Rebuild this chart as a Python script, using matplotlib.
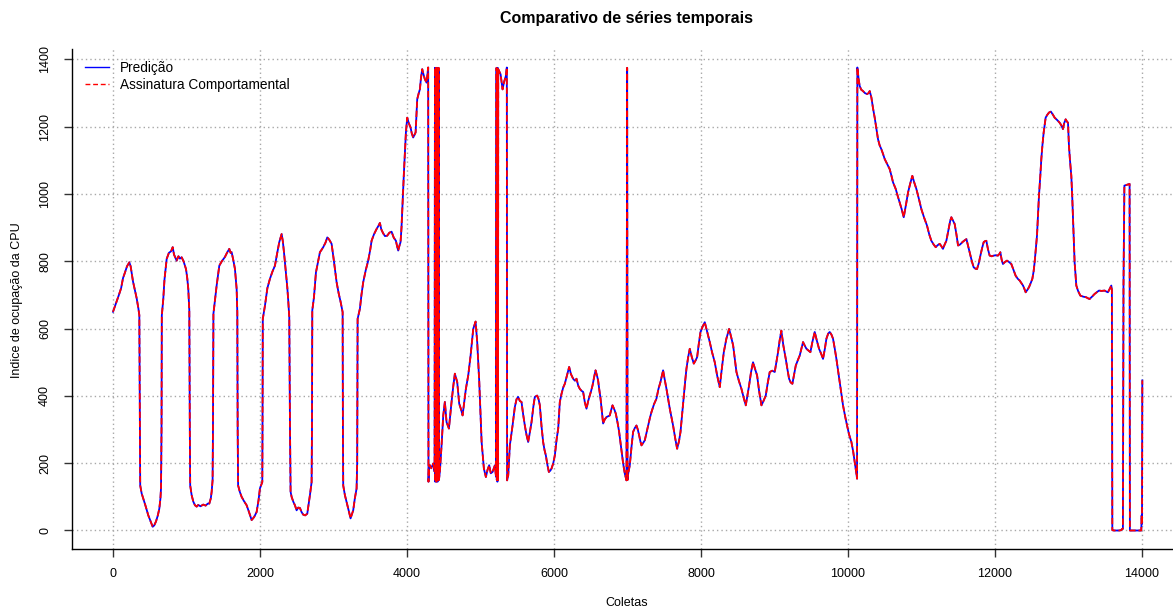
import matplotlib
matplotlib.use("Agg")
import matplotlib.pyplot as plt
from matplotlib.lines import Line2D

# ---------------- data ----------------
coletas = [
    0, 40, 80, 110, 136, 160, 190, 222, 240, 272, 300, 322, 345, 358, 366, 370, 390, 412, 440, 480, 510, 540, 560, 585,
    610, 630, 645, 653, 660, 664, 684, 700, 730, 760, 790, 812, 830, 850, 866, 890, 910, 934, 960, 993, 1010, 1024,
    1038, 1045, 1050, 1070, 1092, 1115, 1138, 1160, 1190, 1228, 1260, 1290, 1310, 1330, 1342, 1355, 1360, 1366, 1390,
    1410, 1430, 1446, 1480, 1523, 1550, 1582, 1600, 1614, 1640, 1659, 1672, 1682, 1691, 1696, 1702, 1725, 1750, 1780,
    1818, 1850, 1886, 1920, 1954, 1980, 1999, 2031, 2034, 2038, 2067, 2100, 2135, 2170, 2203, 2230, 2262, 2280, 2294,
    2310, 2326, 2350, 2371, 2385, 2398, 2408, 2416, 2430, 2452, 2475, 2498, 2520, 2543, 2565, 2588, 2615, 2643, 2660,
    2679, 2702, 2707, 2711, 2734, 2761, 2790, 2815, 2840, 2860, 2890, 2915, 2940, 2974, 3000, 3042, 3070, 3097, 3124,
    3128, 3132, 3155, 3178, 3200, 3232, 3250, 3268, 3290, 3314, 3322, 3328, 3359, 3380, 3404, 3440, 3472, 3500, 3518,
    3550, 3586, 3610, 3631, 3650, 3676, 3700, 3730, 3760, 3790, 3820, 3849, 3865, 3880, 3895, 3912, 3925, 3940, 3958,
    3975, 3985, 4003, 4025, 4048, 4065, 4084, 4100, 4117, 4139, 4160, 4175, 4190, 4207, 4225, 4243, 4266, 4280, 4288,
    4292, 4300, 4311, 4330, 4357, 4375,
    4380, 4384, 4388, 4392, 4396, 4400, 4404, 4408, 4412, 4416, 4420, 4426, 4430, 4434,
    4447, 4470, 4493, 4515, 4538, 4570, 4606, 4630, 4651, 4683, 4710, 4735, 4756, 4801, 4833, 4865, 4901, 4933, 4955,
    4983, 5015, 5046, 5073, 5095, 5118, 5140, 5164, 5196, 5210,
    5218, 5222, 5226, 5230, 5234, 5238, 5241, 5273, 5300, 5318, 5345, 5358, 5362, 5377, 5399, 5436, 5467, 5490, 5512,
    5535, 5558, 5580, 5603, 5625, 5648, 5670, 5694, 5720, 5739, 5771, 5790, 5807, 5830, 5852, 5870, 5889, 5910, 5930,
    5950, 5966, 5990, 6011, 6035, 6057, 6079, 6102, 6125, 6147, 6175, 6206, 6230, 6260, 6285, 6306, 6330, 6351, 6375,
    6396, 6420, 6442, 6465, 6487, 6505, 6524, 6545, 6565, 6585, 6600, 6615, 6633, 6650, 6668, 6690, 6714, 6740, 6759,
    6780, 6796, 6820, 6841, 6865, 6886, 6905, 6922, 6940, 6963, 6986, 6995, 7000, 7010, 7031, 7055, 7076, 7100, 7122,
    7140, 7158, 7175, 7190, 7212, 7235, 7258, 7280, 7305, 7326, 7360, 7394, 7420, 7448, 7465, 7484, 7505, 7530, 7552,
    7575, 7600, 7620, 7648, 7675, 7700, 7721, 7745, 7766, 7785, 7802, 7825, 7847, 7875, 7902, 7925, 7947, 7970, 7993,
    8020, 8051, 8085, 8119, 8150, 8187, 8220, 8255, 8280, 8310, 8345, 8382, 8410, 8437, 8460, 8482, 8515, 8550, 8580,
    8609, 8630, 8654, 8680, 8708, 8735, 8763, 8790, 8822, 8850, 8881, 8905, 8935, 8970, 9003, 9025, 9048, 9070, 9093,
    9120, 9153, 9175, 9198, 9220, 9243, 9265, 9289, 9315, 9343, 9365, 9388, 9410, 9434, 9460, 9488, 9515, 9547, 9575,
    9606, 9635, 9660, 9685, 9706, 9730, 9751, 9775, 9796, 9820, 9842, 9865, 9887, 9910, 9932, 9960, 9987, 10015, 10046,
    10070, 10091, 10110, 10123, 10127, 10145, 10159, 10180, 10204, 10230, 10259, 10280, 10295, 10318, 10340, 10363,
    10385, 10408, 10430, 10454, 10475, 10499, 10530, 10567, 10590, 10612, 10630, 10649, 10675, 10703, 10730, 10758,
    10790, 10817, 10845, 10875, 10900, 10930, 10965, 10998, 11035, 11075, 11105, 11134, 11165, 11193, 11220, 11247,
    11270, 11292, 11315, 11338, 11355, 11374, 11390, 11406, 11430, 11451, 11475, 11497, 11525, 11556, 11585, 11611,
    11635, 11655, 11685, 11710, 11735, 11755, 11780, 11801, 11825, 11846, 11865, 11882, 11905, 11927, 11955, 11982,
    12010, 12040, 12060, 12073, 12090, 12108, 12135, 12163, 12190, 12222, 12250, 12281, 12310, 12335, 12360, 12381,
    12400, 12417, 12440, 12462, 12485, 12508, 12525, 12539, 12555, 12571, 12585, 12598, 12615, 12630, 12645, 12662,
    12675, 12689, 12710, 12734, 12760, 12790, 12811, 12845, 12879, 12900, 12924, 12940, 12961, 12980, 12993, 13006,
    13020, 13038, 13050, 13060, 13072, 13083, 13095, 13106, 13130, 13161, 13200, 13242, 13265, 13287, 13320, 13355,
    13385, 13414, 13450, 13491, 13515, 13536, 13560, 13582, 13590, 13596, 13620, 13650, 13690, 13718, 13730, 13740,
    13748, 13760, 13800, 13831, 13835, 13870, 13910, 13950, 13990, 13995, 14000, 14004,
]

assinatura = [
    650, 675, 700, 720, 750, 765, 785, 797, 785, 740, 712, 690, 660, 640, 300, 134, 110, 95, 75, 45, 28, 11, 15, 27,
    45, 65, 95, 125, 300, 639, 688, 745, 807, 825, 830, 842, 820, 810, 802, 815, 808, 812, 800, 777, 750, 718,
    654, 300, 134, 105, 86, 75, 71, 76, 72, 77, 74, 80, 80, 95, 115, 150, 300, 644, 690,
    728, 760, 787, 800, 813, 825, 837, 825, 827, 800, 777, 745, 718, 649, 300, 134, 115, 100, 88,
    75, 55, 31, 40, 55, 90, 125, 144, 300, 629, 668, 720, 748, 770, 787, 820, 857, 870, 881,
    860, 827, 770, 723, 680, 634, 300, 115, 100, 86, 75, 60, 68, 67, 55, 47, 45, 50, 75,
    105, 144, 300, 654, 693, 767, 800, 827, 835, 842, 855, 871, 865, 852, 810, 738, 705, 679, 649,
    300, 134, 105, 85, 65, 36, 48, 60, 95, 125, 200, 629, 659, 700, 738, 775, 802, 835, 861,
    880, 896, 905, 914, 895, 883, 875, 876, 885, 888, 870, 861, 845, 832, 845, 857, 900, 975, 1064,
    1140, 1183, 1227, 1210, 1198, 1180, 1168, 1175, 1183, 1282, 1300, 1311, 1345, 1371, 1355, 1341, 1331, 1360, 1376,
    145, 190, 194, 185, 199, 175,
    1375, 145, 1375, 150, 1375, 145, 1375, 160, 1375, 145, 1375, 150, 1375, 150,
    175, 253, 342, 382, 322, 303, 382, 430, 466, 441, 377, 360, 342, 421, 461, 520, 599, 621, 560,
    441, 263, 184, 159, 180, 194, 170, 174, 194, 160,
    1375, 150, 1375, 145, 1375, 150, 1371, 1356, 1311, 1331, 1351, 1376, 149, 164, 253, 312, 367, 390, 397,
    385, 382, 345, 312, 285, 263, 290, 322, 370, 397, 401, 390, 372, 310, 263, 240, 223, 195, 174,
    178, 184, 200, 223, 270, 303, 382, 406, 425, 436, 460, 486, 465, 451, 445, 451, 430, 421, 415,
    412, 380, 362, 385, 401, 415, 431, 455, 476, 460, 446, 420, 392, 355, 318, 330, 337, 340, 342,
    360, 372, 360, 347, 320, 293, 260, 233, 200, 169, 149, 1375, 150, 170, 194, 250, 293, 305, 312,
    300, 283, 265, 253, 260, 268, 290, 312, 335, 352, 375, 392, 420, 441, 458, 476, 450, 421, 392,
    362, 335, 312, 275, 243, 265, 293, 350, 401, 445, 481, 515, 540, 515, 496, 505, 515, 555, 590,
    605, 619, 590, 560, 530, 500, 460, 426, 475, 530, 570, 599, 575, 550, 510, 471, 445, 421, 395,
    372, 400, 431, 470, 500, 480, 461, 415, 372, 385, 401, 435, 471, 475, 471, 500, 530, 565, 594,
    550, 510, 480, 451, 440, 436, 462, 490, 505, 520, 540, 560, 550, 540, 535, 530, 560, 590, 565,
    540, 525, 510, 540, 570, 585, 590, 582, 570, 540, 510, 475, 441, 405, 372, 340, 312, 285, 263,
    235, 204, 175, 154, 1376, 1340, 1321, 1310, 1306, 1300, 1297, 1300, 1306, 1287, 1255, 1227,
    1195, 1163, 1145, 1133, 1120, 1104, 1090, 1074, 1055, 1035, 1025, 1015, 995, 975, 955, 931,
    970, 1005, 1030, 1054, 1035, 1015, 985, 955, 930, 906, 880, 861, 850, 842, 848, 852,
    845, 837, 850, 861, 880, 901, 920, 931, 920, 911, 880, 847, 850, 857, 862, 866,
    845, 827, 800, 782, 778, 777, 795, 817, 840, 857, 860, 861, 835, 817, 815, 817,
    818, 817, 822, 827, 805, 792, 798, 802, 798, 792, 775, 757, 748, 743, 735, 728,
    718, 708, 715, 723, 735, 748, 770, 797, 835, 876, 935, 995, 1050, 1104, 1145, 1183,
    1205, 1227, 1235, 1242, 1245, 1235, 1227, 1220, 1212, 1205, 1193, 1210, 1222, 1215, 1212, 1143,
    1100, 1054, 995, 935, 865, 797, 760, 728, 712, 698, 695, 693, 690, 688, 695, 703,
    708, 713, 712, 713, 710, 708, 718, 728, 715, 1, 0, 0, 0, 1, 5, 5,
    728, 1025, 1028, 1030, 0, 0, 0, 0, 0, 45, 20, 446,
]

predicao = list(assinatura)

titulo = "Comparativo de séries temporais"
rotulo_x = "Coletas"
rotulo_y = "Indice de ocupação da CPU"
legenda = ["Predição", "Assinatura Comportamental"]
xticks = [0, 2000, 4000, 6000, 8000, 10000, 12000, 14000]
yticks = [0, 200, 400, 600, 800, 1000, 1200, 1400]

# ---------------- figure ----------------
plt.rcParams['font.family'] = ['Liberation Sans', 'DejaVu Sans']

W, H = 1173, 610
fig = plt.figure(figsize=(W / 100, H / 100), dpi=100)
ax = fig.add_axes([72 / W, 1 - 549 / H, (1187 - 72) / W, (549 - 49) / H])

ax.set_xlim(-558, 14612)
ax.set_ylim(-55, 1431)

# grid (R grid(): dotted light gray)
for xv in xticks:
    ax.axvline(xv, color='#a8a8a8', lw=1.0, linestyle=(0, (1, 2.2)), zorder=1)
for yv in yticks:
    ax.axhline(yv, color='#a8a8a8', lw=1.0, linestyle=(0, (1, 2.2)), zorder=1)

ax.plot(coletas, predicao, color='#0000FF', lw=1.3, zorder=3)
ax.plot(coletas, assinatura, color='#FF0000', lw=1.3, linestyle=(0, (3.5, 1.6)), zorder=4)

ax.spines['top'].set_visible(False)
ax.spines['right'].set_visible(False)
ax.spines['left'].set_linewidth(1.0)
ax.spines['bottom'].set_linewidth(1.0)

ax.set_xticks(xticks)
ax.set_yticks(yticks)
ax.set_xticklabels([str(v) for v in xticks])
ax.set_yticklabels([str(v) for v in yticks])
ax.tick_params(axis='both', length=6, width=1, color='#333333', labelsize=9)
ax.tick_params(axis='x', pad=8)
ax.tick_params(axis='y', pad=9)
for lab in ax.get_yticklabels():
    lab.set_rotation(90)
    lab.set_va('center')
    lab.set_ha('right')

fig.text(627 / W, 1 - 19 / H, titulo, ha='center', va='center', fontsize=11.5, fontweight='bold')
fig.text(627 / W, 1 - 603 / H, rotulo_x, ha='center', va='center', fontsize=9)
fig.text(17 / W, 1 - 300 / H, rotulo_y, ha='center', va='center', fontsize=9, rotation=90)

handles = [Line2D([], [], color='#0000FF', lw=1.0),
           Line2D([], [], color='#FF0000', lw=1.0, linestyle=(0, (3.5, 2)))]
ax.legend(handles, legenda, loc='upper left', bbox_to_anchor=(0.0115, 0.976), frameon=False,
          fontsize=9.8, handlelength=1.75, handletextpad=0.85, labelspacing=0.2, borderpad=0,
          borderaxespad=0)

fig.savefig("out.png", dpi=100)
